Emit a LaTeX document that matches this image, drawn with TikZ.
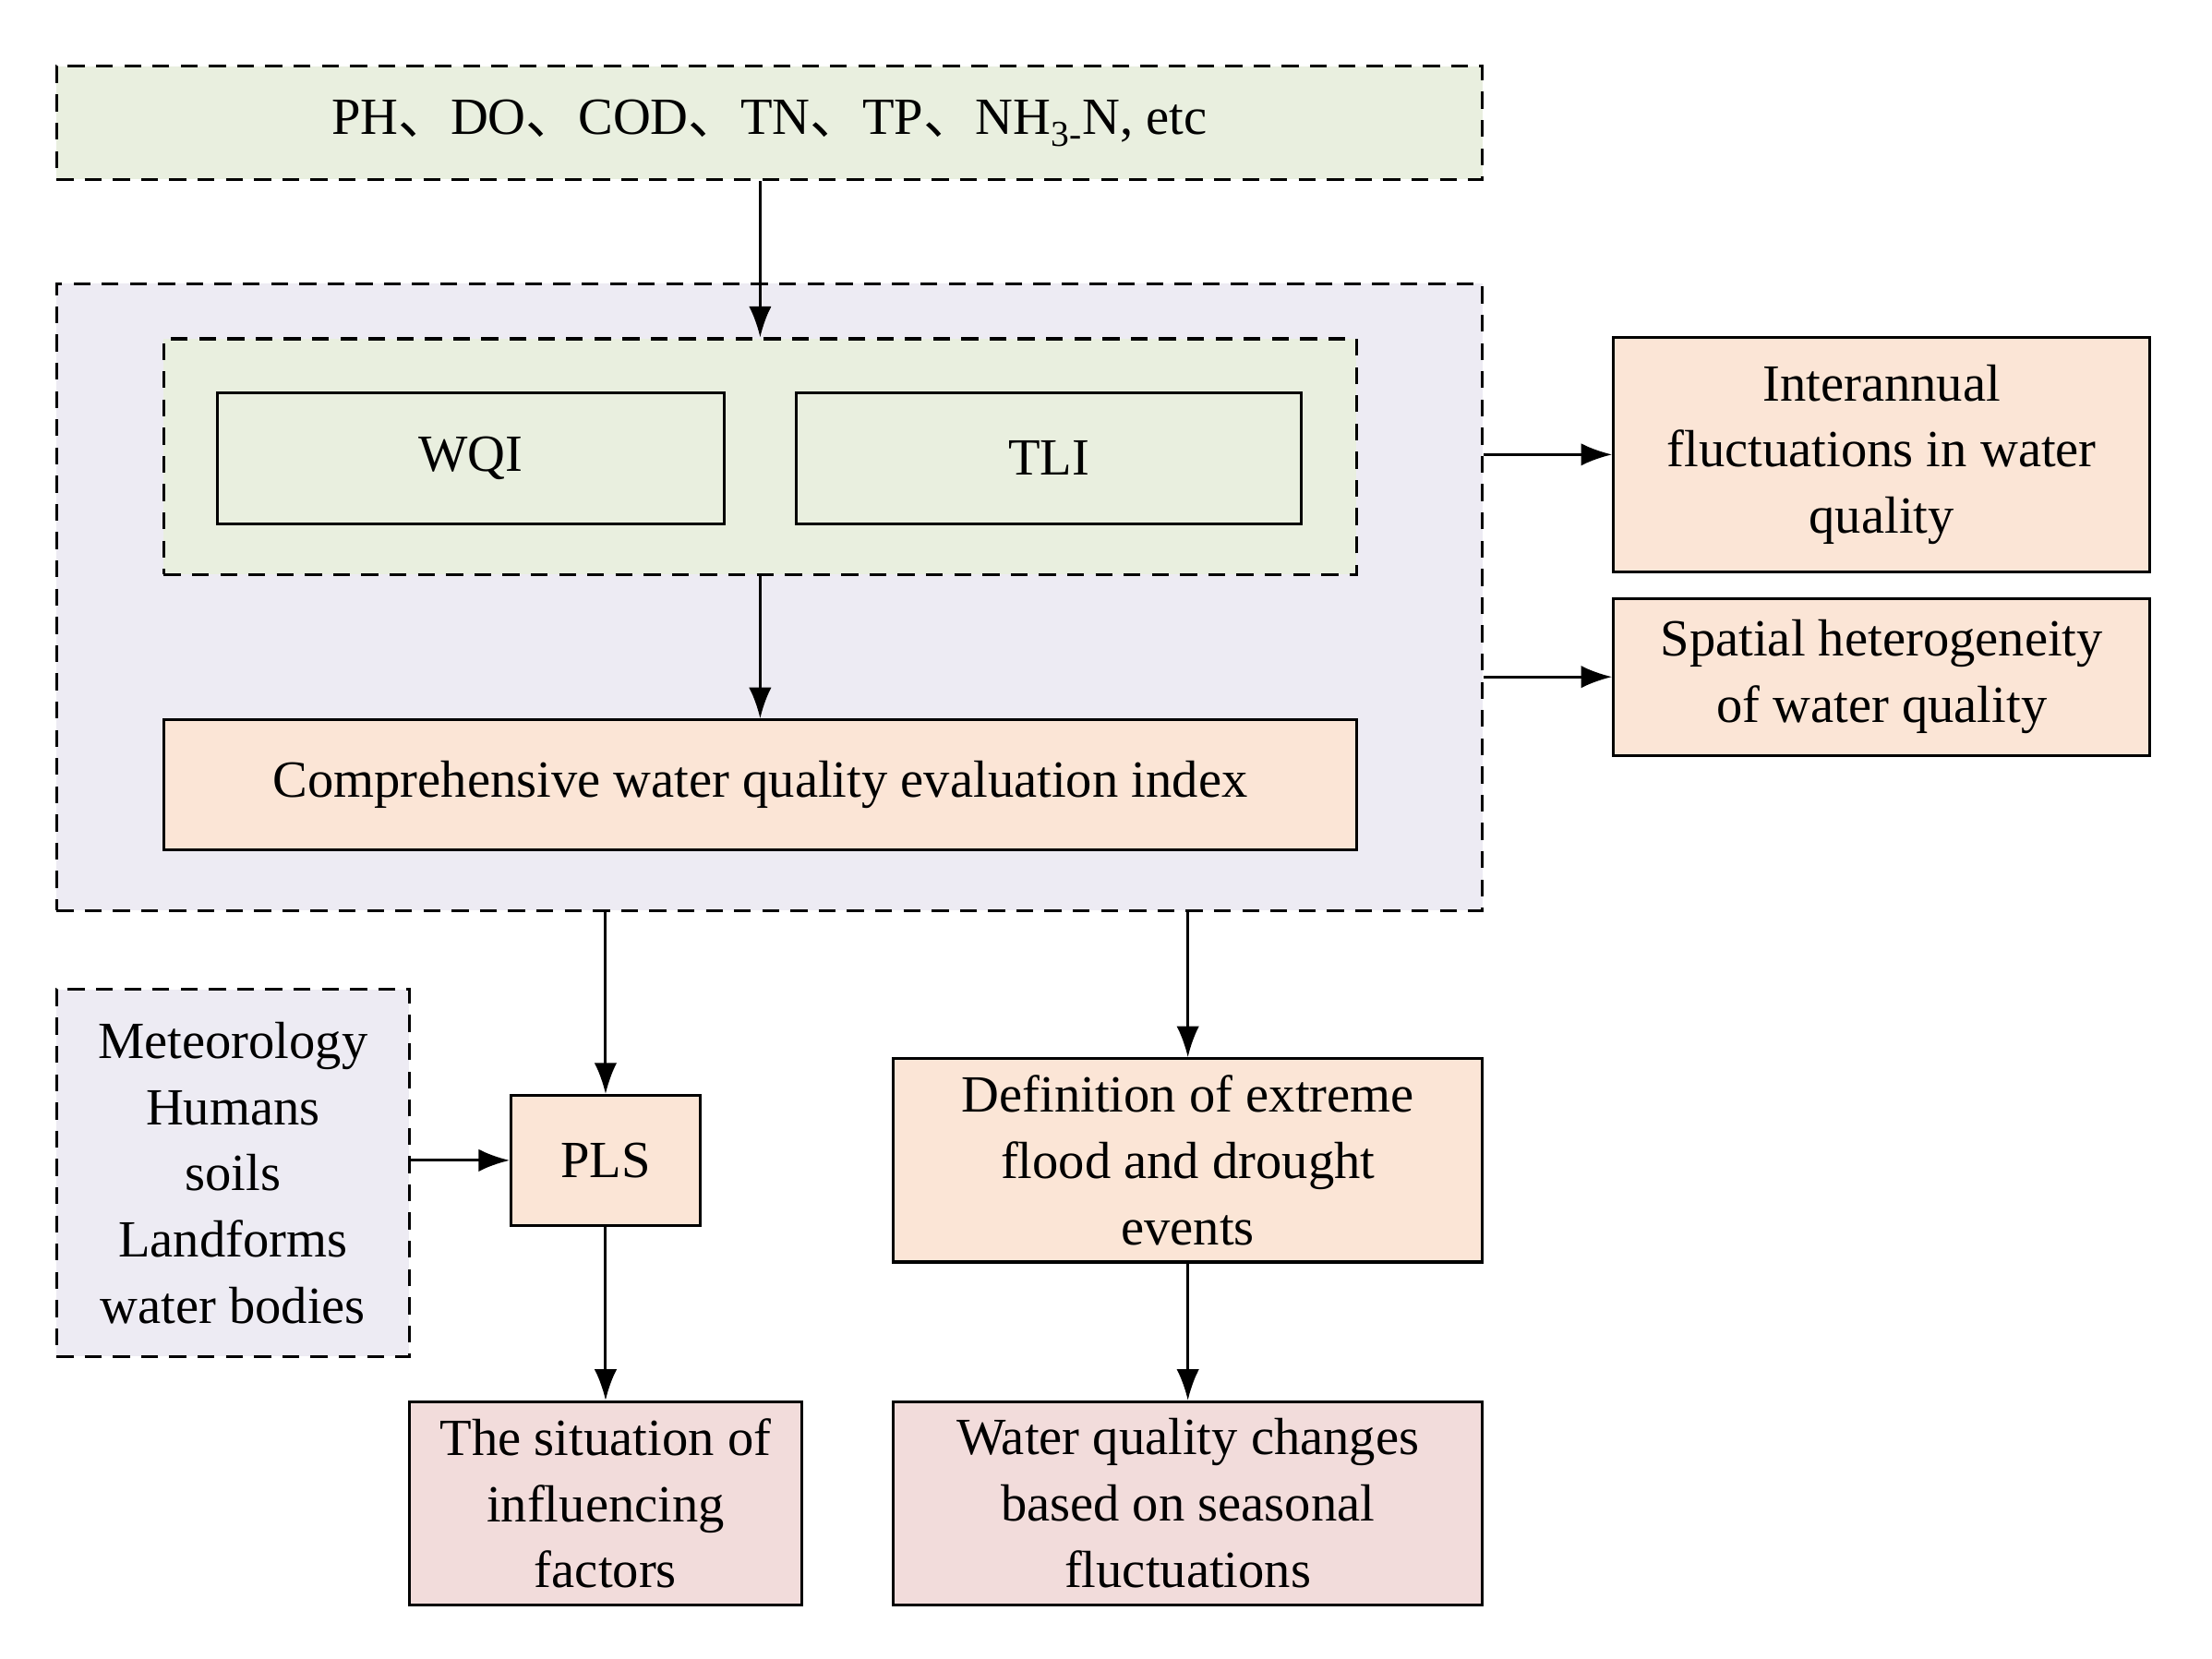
\documentclass[tikz,border=0pt]{standalone}
\usepackage{fontspec}
\setmainfont{Liberation Serif}
\newfontfamily\cjk{Noto Sans CJK SC}
\usetikzlibrary{arrows.meta}
\definecolor{cgreen}{HTML}{E9EFDF}
\definecolor{clav}{HTML}{EDEBF3}
\definecolor{cpeach}{HTML}{FBE5D6}
\definecolor{cpink}{HTML}{F2DCDB}
\newcommand{\dun}{{\cjk 、}}
\tikzset{
  box/.style={draw, line width=2pt, align=center, inner sep=0pt,
    font=\fontsize{37}{47}\selectfont},
  dbox/.style={box, dashed, dash pattern=on 12pt off 8pt},
  arr/.style={line width=2pt, -{Latex[length=22pt,width=16pt]}}
}
\begin{document}
\begin{tikzpicture}[x=1pt,y=1pt,yscale=-1]
\useasboundingbox (0,0) rectangle (1567,1175);
% containers
\node[dbox, fill=cgreen, minimum width=1010, minimum height=80] (top) at (545,87)
  {PH\dun DO\dun COD\dun TN\dun TP\dun NH\textsubscript{3-}N, etc};
\node[dbox, fill=clav, minimum width=1010, minimum height=444] (big) at (545,423) {};
\node[dbox, fill=cgreen, minimum width=845, minimum height=167] (inner) at (538.5,323.5) {};
\node[box, fill=cgreen, minimum width=359, minimum height=93] (wqi) at (333.5,324.5) {WQI};
\node[box, fill=cgreen, minimum width=358, minimum height=93] (tli) at (743,324.5) {TLI};
\node[box, fill=cpeach, minimum width=845, minimum height=92] (cwq) at (538.5,556)
  {Comprehensive water quality evaluation index};
% right outputs
\node[box, fill=cpeach, minimum width=380, minimum height=166] (inter) at (1333,322)
  {Interannual\\fluctuations in water\\quality};
\node[box, fill=cpeach, minimum width=380, minimum height=111] (spat) at (1333,479.5)
  {Spatial heterogeneity\\of water quality};
% lower part
\node[dbox, fill=clav, minimum width=250, minimum height=260] (fac) at (165,831)
  {Meteorology\\Humans\\soils\\Landforms\\water bodies};
\node[box, fill=cpeach, minimum width=134, minimum height=92] (pls) at (429,822) {PLS};
\node[box, fill=cpink, minimum width=278, minimum height=144] (sit) at (429,1065)
  {The situation of\\influencing\\factors};
\node[box, fill=cpeach, minimum width=417, minimum height=144] (def) at (841.5,822)
  {Definition of extreme\\flood and drought\\events};
\node[box, fill=cpink, minimum width=417, minimum height=144] (wqc) at (841.5,1065)
  {Water quality changes\\based on seasonal\\fluctuations};
% connectors
\draw[arr] (top.south -| inner.north) -- (inner.north);
\draw[arr] (inner.south) -- (cwq.north);
\draw[arr] (big.east |- inter.west) -- (inter.west);
\draw[arr] (big.east |- spat.west) -- (spat.west);
\draw[arr] (big.south -| pls.north) -- (pls.north);
\draw[arr] (fac.east |- pls.west) -- (pls.west);
\draw[arr] (pls.south) -- (sit.north);
\draw[arr] (big.south -| def.north) -- (def.north);
\draw[arr] (def.south) -- (wqc.north);
\end{tikzpicture}
\end{document}
